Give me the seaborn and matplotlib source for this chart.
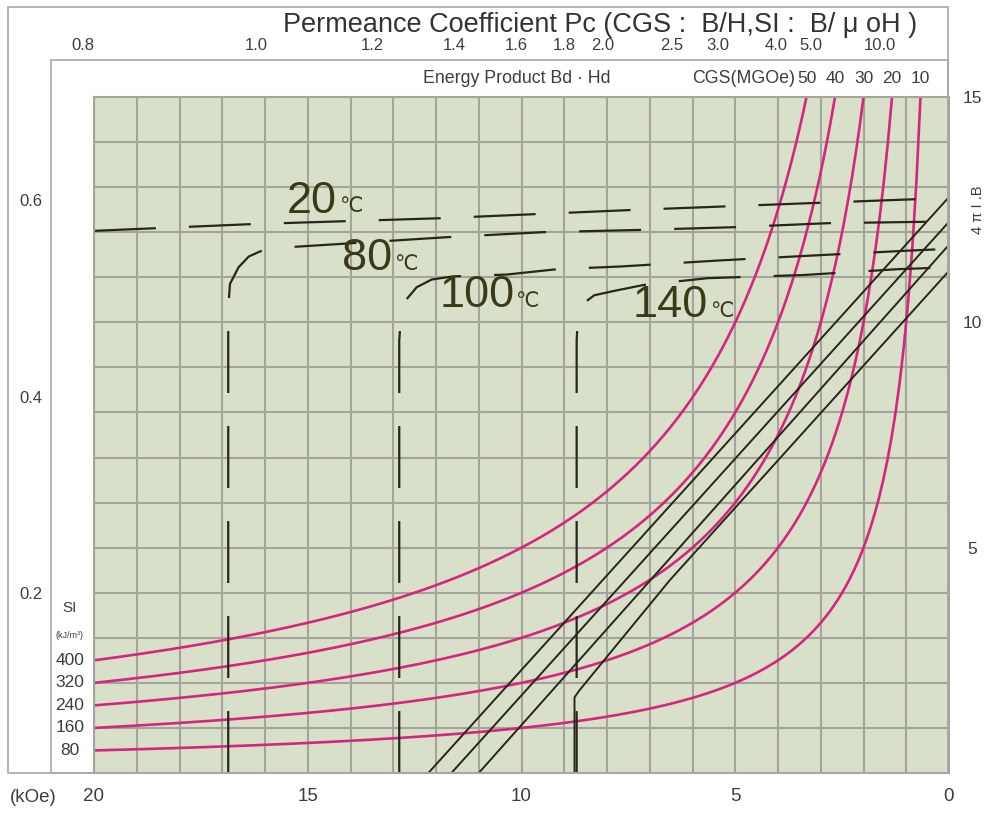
import matplotlib
matplotlib.use("Agg")
import matplotlib.pyplot as plt
import matplotlib.transforms as mtransforms
from matplotlib.patches import Rectangle
from matplotlib.ticker import MultipleLocator, FixedLocator
import numpy as np
import pandas as pd
import seaborn as sns

# --- valores ---
# produto energético (curvas rosa), CGS e SI
energia_mgoe = [50, 40, 30, 20, 10]
energia_si = [400, 320, 240, 160, 80]

# coeficiente de permeância (escala de cima)
pc_valores = [0.8, 1.0, 1.2, 1.4, 1.6, 1.8, 2.0, 2.5, 3.0, 4.0, 5.0, 10.0]
pc_textos = ["0.8", "1.0", "1.2", "1.4", "1.6", "1.8", "2.0", "2.5", "3.0", "4.0", "5.0", "10.0"]

# escalas
h_ticks = [20, 15, 10, 5, 0]
b_ticks = [5, 10, 15]
esq_ticks = [0.2, 0.4, 0.6]
esq_textos = ["0.2", "0.4", "0.6"]

# curvas normais B (H em kOe, B em kG)
b20_h = [12.18, 0.0]
b20_b = [0.0, 12.78]
b80_h = [11.64, 0.0]
b80_b = [0.0, 12.23]
b100_h = [11.0, 0.0]
b100_b = [0.0, 11.72]
b140_h = [8.76, 8.76, 8.64, 6.53, 0.0]
b140_b = [0.0, 1.68, 1.84, 4.28, 11.14]

# curvas intrínsecas 4πI (tracejadas)
i20_h = [20.0, 16.3, 11.9, 7.5, 3.1, 0.0]
i20_j = [12.03, 12.18, 12.31, 12.49, 12.65, 12.76]
i80_h = [16.86, 16.86, 16.82, 16.62, 16.38, 16.1, 15.4, 11.73, 9.51, 7.26, 5.06, 2.83, 0.61, 0.0]
i80_j = [0.0, 10.3, 10.85, 11.22, 11.46, 11.58, 11.67, 11.89, 12.0, 12.05, 12.11, 12.2, 12.23, 12.25]
i100_h = [12.86, 12.86, 12.82, 12.7, 12.45, 12.1, 11.6, 10.35, 9.16, 7.66, 5.43, 3.24, 0.98, 0.0]
i100_j = [0.0, 9.6, 10.1, 10.5, 10.78, 10.95, 11.02, 11.06, 11.18, 11.24, 11.37, 11.48, 11.59, 11.63]
i140_h = [8.71, 8.71, 8.68, 8.55, 8.3, 7.82, 7.14, 5.64, 3.4, 1.19, 0.0]
i140_j = [0.0, 9.6, 10.1, 10.42, 10.6, 10.7, 10.83, 10.98, 11.05, 11.18, 11.22]

temperaturas = ["20", "80", "100", "140"]

# --- estilo ---
sns.set_theme(style="white")
plt.rcParams["font.family"] = ["Liberation Sans", "DejaVu Sans"]
plt.rcParams["lines.scale_dashes"] = False

ROSA = "#d6267b"
PRETO = "#26261a"
OLIVA = "#3a3a18"
CINZA_TXT = "#3d3d3d"
GRADE = "#a4a49c"
FUNDO = "#d9e0c9"
TRACO = (0, (44.6, 23.8))

W, H = 991, 814
fx = lambda px: px / W
fy = lambda py: 1 - py / H

fig = plt.figure(figsize=(W / 100, H / 100), dpi=100)
fig.patch.set_facecolor("white")

# molduras cinza
fig.add_artist(Rectangle((fx(8), fy(773)), fx(948) - fx(8), fy(7) - fy(773),
                         fill=False, ec="#a8a8a8", lw=1.2, transform=fig.transFigure))
fig.add_artist(Rectangle((fx(51), fy(773)), fx(948) - fx(51), fy(60) - fy(773),
                         fill=False, ec="#a8a8a8", lw=1.2, transform=fig.transFigure))

ax = fig.add_axes([fx(94), fy(773), fx(949) - fx(94), fy(97) - fy(773)])
ax.set_facecolor(FUNDO)

# curvas de produto energético  B*H = E
linhas_e = []
for e in energia_mgoe:
    hh = np.linspace(20, e / 15, 200)
    linhas_e.append(pd.DataFrame({"H": hh, "B": e / hh, "E": e}))
df_e = pd.concat(linhas_e)
sns.lineplot(data=df_e, x="H", y="B", hue="E", palette=[ROSA] * len(energia_mgoe),
             sort=False, estimator=None, legend=False, lw=1.9, ax=ax)

# curvas normais
for hh, bb in [(b20_h, b20_b), (b80_h, b80_b), (b100_h, b100_b), (b140_h, b140_b)]:
    sns.lineplot(x=hh, y=bb, sort=False, estimator=None, color=PRETO, lw=1.4, ax=ax)

# curvas intrínsecas
for hh, jj in [(i20_h, i20_j), (i80_h, i80_j), (i100_h, i100_j), (i140_h, i140_j)]:
    sns.lineplot(x=hh, y=jj, sort=False, estimator=None, color=PRETO, lw=1.6,
                 linestyle=TRACO, ax=ax)

ax.set_xlim(20, 0)
ax.set_ylim(0, 15)
ax.set_xlabel("")
ax.set_ylabel("")
ax.xaxis.set_major_locator(FixedLocator(h_ticks))
ax.xaxis.set_minor_locator(MultipleLocator(1))
ax.yaxis.set_major_locator(MultipleLocator(1))
ax.grid(which="both", color=GRADE, lw=1.5)
ax.set_axisbelow(True)
ax.set_xticklabels([str(t) for t in h_ticks])
ax.tick_params(axis="x", which="both", length=0, pad=11, labelsize=13.5, labelcolor=CINZA_TXT)
ax.tick_params(axis="y", which="both", length=0, labelleft=False)
for s in ax.spines.values():
    s.set_color(GRADE)
    s.set_linewidth(1.5)

# rótulos de temperatura
pos_num = [(15.5, 12.43), (14.19, 11.16), (11.92, 10.34), (7.4, 10.12)]
pos_grau = [(14.27, 12.45), (12.98, 11.16), (10.16, 10.34), (5.6, 10.12)]
for t, (xn, yn), (xg, yg) in zip(temperaturas, pos_num, pos_grau):
    ax.text(xn, yn, t, fontsize=32.5, color=OLIVA, va="baseline", ha="left")
    ax.text(xg, yg, "\u2103", fontsize=15, color=OLIVA, va="baseline", ha="left",
            family=["DejaVu Sans"])

# escala de permeância (topo)
for pc, txt in zip(pc_valores, pc_textos):
    ax.text(16.2 / pc, 16.15, txt, ha="center", va="center", fontsize=12,
            color=CINZA_TXT, clip_on=False)

# faixa de produto energético
ax.text(12.3, 15.42, "Energy Product Bd \u00b7 Hd", ha="left", va="center",
        fontsize=12.8, color=CINZA_TXT, clip_on=False)
ax.text(3.6, 15.42, "CGS(MGOe)", ha="right", va="center", fontsize=12.8,
        color=CINZA_TXT, clip_on=False)
for e in energia_mgoe:
    ax.text(e / 15, 15.42, str(e), ha="center", va="center", fontsize=12.5,
            color=CINZA_TXT, clip_on=False)

# rótulos SI à esquerda
trans_si = mtransforms.blended_transform_factory(ax.transAxes, ax.transData)
x_si = (70 - 94) / (949 - 94)
for e, s in zip(energia_mgoe, energia_si):
    ax.text(x_si, e / 20, str(s), transform=trans_si, ha="center", va="center",
            fontsize=12.5, color=CINZA_TXT, clip_on=False)
ax.text(x_si, 3.66, "SI", transform=trans_si, ha="center", va="center",
        fontsize=11, color=CINZA_TXT, clip_on=False)
ax.text(x_si, 3.04, "(kJ/m\u00b3)", transform=trans_si, ha="center", va="center",
        fontsize=6.5, color=CINZA_TXT, clip_on=False)

# eixo da direita (kG)
ax_r = ax.twinx()
ax_r.set_ylim(0, 15)
ax_r.set_yticks(b_ticks)
ax_r.tick_params(length=0, pad=17, labelsize=12.5, labelcolor=CINZA_TXT)
for t in ax_r.get_yticklabels():
    t.set_ha("center")
ax_r.grid(False)
for s in ax_r.spines.values():
    s.set_visible(False)
ax_r.text(1.034, 12.5, "4 \u03c0 I .B", transform=mtransforms.blended_transform_factory(
    ax_r.transAxes, ax_r.transData), rotation=90, ha="center", va="center",
    fontsize=10.5, color=CINZA_TXT)

# eixo da esquerda: 0.2 -> 3.99 kG, 0.6 -> 12.71 kG
kg_unid = (12.71 - 3.99) / 0.4
ax_l = ax.twinx()
ax_l.yaxis.tick_left()
ax_l.set_ylim(0.2 - 3.99 / kg_unid, 0.2 + (15 - 3.99) / kg_unid)
ax_l.set_yticks(esq_ticks)
ax_l.set_yticklabels(esq_textos)
ax_l.tick_params(length=0, pad=37, labelsize=12, labelcolor=CINZA_TXT)
ax_l.grid(False)
for s in ax_l.spines.values():
    s.set_visible(False)

# títulos
fig.text(fx(600), fy(25), "Permeance Coefficient Pc (CGS :  B/H,SI :  B/ \u03bc oH )",
         ha="center", va="center", fontsize=19.5, color="#333333")
fig.text(fx(33), fy(798), "(kOe)", ha="center", va="center", fontsize=13.5, color=CINZA_TXT)

fig.savefig("out.png", dpi=100)
